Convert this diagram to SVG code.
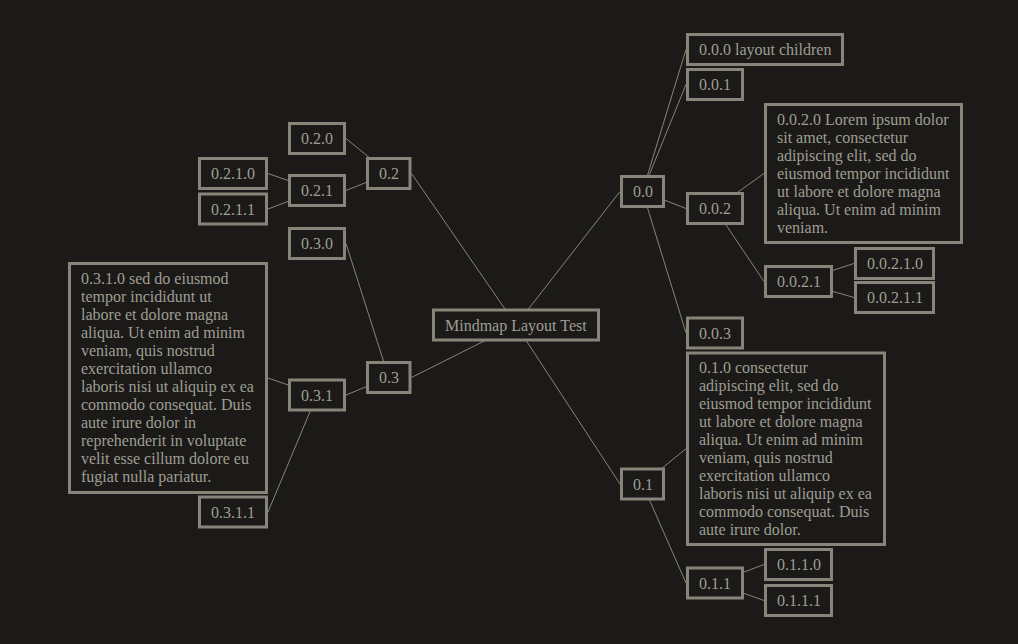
<svg xmlns="http://www.w3.org/2000/svg" width="1018" height="644" viewBox="0 0 1018 644">
<style>
.bg{fill:#1b1a18}
.n rect{fill:#1b1a18;stroke:#86857a;stroke-width:3}
.n text{font-family:"Liberation Serif","Times New Roman",serif;font-size:16px;fill:#9f9e92}
.c line{stroke:#86857a;stroke-width:1}
</style>
<rect class="bg" x="0" y="0" width="1018" height="644"/>
<g class="c">
<line x1="516" y1="325" x2="620" y2="191.5"/>
<line x1="516" y1="325" x2="620" y2="484"/>
<line x1="516" y1="325" x2="411.5" y2="173.5"/>
<line x1="516" y1="325" x2="411.5" y2="377.5"/>
<line x1="642.5" y1="191.5" x2="686" y2="49.5"/>
<line x1="642.5" y1="191.5" x2="686" y2="84.5"/>
<line x1="642.5" y1="191.5" x2="686" y2="208.5"/>
<line x1="642.5" y1="191.5" x2="686" y2="333"/>
<line x1="715" y1="208.5" x2="764" y2="173.5"/>
<line x1="715" y1="208.5" x2="764" y2="281.5"/>
<line x1="798.5" y1="281.5" x2="854" y2="263.5"/>
<line x1="798.5" y1="281.5" x2="854" y2="297.5"/>
<line x1="642.5" y1="484" x2="686" y2="448.75"/>
<line x1="642.5" y1="484" x2="686" y2="583"/>
<line x1="715" y1="583" x2="764" y2="564.5"/>
<line x1="715" y1="583" x2="764" y2="600.5"/>
<line x1="388.75" y1="173.5" x2="346" y2="138.5"/>
<line x1="388.75" y1="173.5" x2="346" y2="190.5"/>
<line x1="317" y1="190.5" x2="268" y2="173.5"/>
<line x1="317" y1="190.5" x2="268" y2="209"/>
<line x1="388.75" y1="377.5" x2="346" y2="243.5"/>
<line x1="388.75" y1="377.5" x2="346" y2="395"/>
<line x1="317" y1="395" x2="268" y2="378"/>
<line x1="317" y1="395" x2="268" y2="512"/>
</g>
<g id="root" class="n"><rect x="433.5" y="310" width="165" height="30"/><text x="445" y="330.5">Mindmap Layout Test</text></g>
<g id="n0.0" class="n"><rect x="621.5" y="176.5" width="42" height="30"/><text x="633" y="197">0.0</text></g>
<g id="n0.0.0" class="n"><rect x="687.5" y="34.5" width="155" height="30"/><text x="699" y="55">0.0.0 layout children</text></g>
<g id="n0.0.1" class="n"><rect x="687.5" y="69.5" width="55" height="30"/><text x="699" y="90">0.0.1</text></g>
<g id="n0.0.2" class="n"><rect x="687.5" y="193.5" width="55" height="30"/><text x="699" y="214">0.0.2</text></g>
<g id="n0.0.2.0" class="n"><rect x="765.5" y="104.5" width="196" height="138"/><text x="777" y="124.5"><tspan x="777">0.0.2.0 Lorem ipsum dolor</tspan><tspan x="777" dy="18">sit amet, consectetur</tspan><tspan x="777" dy="18">adipiscing elit, sed do</tspan><tspan x="777" dy="18">eiusmod tempor incididunt</tspan><tspan x="777" dy="18">ut labore et dolore magna</tspan><tspan x="777" dy="18">aliqua. Ut enim ad minim</tspan><tspan x="777" dy="18">veniam.</tspan></text></g>
<g id="n0.0.2.1" class="n"><rect x="765.5" y="266.5" width="66" height="30"/><text x="777" y="287">0.0.2.1</text></g>
<g id="n0.0.2.1.0" class="n"><rect x="855.5" y="248.5" width="78" height="30"/><text x="867" y="269">0.0.2.1.0</text></g>
<g id="n0.0.2.1.1" class="n"><rect x="855.5" y="282.5" width="78" height="30"/><text x="867" y="303">0.0.2.1.1</text></g>
<g id="n0.0.3" class="n"><rect x="687.5" y="318" width="55" height="30"/><text x="699" y="338.5">0.0.3</text></g>
<g id="n0.1" class="n"><rect x="621.5" y="469" width="42" height="30"/><text x="633" y="489.5">0.1</text></g>
<g id="n0.1.0" class="n"><rect x="687.5" y="353" width="197" height="191.5"/><text x="699" y="373.3"><tspan x="699">0.1.0 consectetur</tspan><tspan x="699" dy="18">adipiscing elit, sed do</tspan><tspan x="699" dy="18">eiusmod tempor incididunt</tspan><tspan x="699" dy="18">ut labore et dolore magna</tspan><tspan x="699" dy="18">aliqua. Ut enim ad minim</tspan><tspan x="699" dy="18">veniam, quis nostrud</tspan><tspan x="699" dy="18">exercitation ullamco</tspan><tspan x="699" dy="18">laboris nisi ut aliquip ex ea</tspan><tspan x="699" dy="18">commodo consequat. Duis</tspan><tspan x="699" dy="18">aute irure dolor.</tspan></text></g>
<g id="n0.1.1" class="n"><rect x="687.5" y="568" width="55" height="30"/><text x="699" y="588.5">0.1.1</text></g>
<g id="n0.1.1.0" class="n"><rect x="765.5" y="549.5" width="66" height="30"/><text x="777" y="570">0.1.1.0</text></g>
<g id="n0.1.1.1" class="n"><rect x="765.5" y="585.5" width="66" height="30"/><text x="777" y="606">0.1.1.1</text></g>
<g id="n0.2" class="n"><rect x="367.5" y="158.5" width="42.5" height="30"/><text x="379" y="179">0.2</text></g>
<g id="n0.2.0" class="n"><rect x="289.5" y="123.5" width="55" height="30"/><text x="301" y="144">0.2.0</text></g>
<g id="n0.2.1" class="n"><rect x="289.5" y="175.5" width="55" height="30"/><text x="301" y="196">0.2.1</text></g>
<g id="n0.2.1.0" class="n"><rect x="199.5" y="158.5" width="67" height="30"/><text x="211" y="179">0.2.1.0</text></g>
<g id="n0.2.1.1" class="n"><rect x="199.5" y="194" width="67" height="30"/><text x="211" y="214.5">0.2.1.1</text></g>
<g id="n0.3" class="n"><rect x="367.5" y="362.5" width="42.5" height="30"/><text x="379" y="383">0.3</text></g>
<g id="n0.3.0" class="n"><rect x="289.5" y="228.5" width="55" height="30"/><text x="301" y="249">0.3.0</text></g>
<g id="n0.3.1" class="n"><rect x="289.5" y="380" width="55" height="30"/><text x="301" y="400.5">0.3.1</text></g>
<g id="n0.3.1.0" class="n"><rect x="69.5" y="263.5" width="197" height="229"/><text x="81" y="283.5"><tspan x="81">0.3.1.0 sed do eiusmod</tspan><tspan x="81" dy="18">tempor incididunt ut</tspan><tspan x="81" dy="18">labore et dolore magna</tspan><tspan x="81" dy="18">aliqua. Ut enim ad minim</tspan><tspan x="81" dy="18">veniam, quis nostrud</tspan><tspan x="81" dy="18">exercitation ullamco</tspan><tspan x="81" dy="18">laboris nisi ut aliquip ex ea</tspan><tspan x="81" dy="18">commodo consequat. Duis</tspan><tspan x="81" dy="18">aute irure dolor in</tspan><tspan x="81" dy="18">reprehenderit in voluptate</tspan><tspan x="81" dy="18">velit esse cillum dolore eu</tspan><tspan x="81" dy="18">fugiat nulla pariatur.</tspan></text></g>
<g id="n0.3.1.1" class="n"><rect x="199.5" y="497" width="67" height="30"/><text x="211" y="517.5">0.3.1.1</text></g>
</svg>
